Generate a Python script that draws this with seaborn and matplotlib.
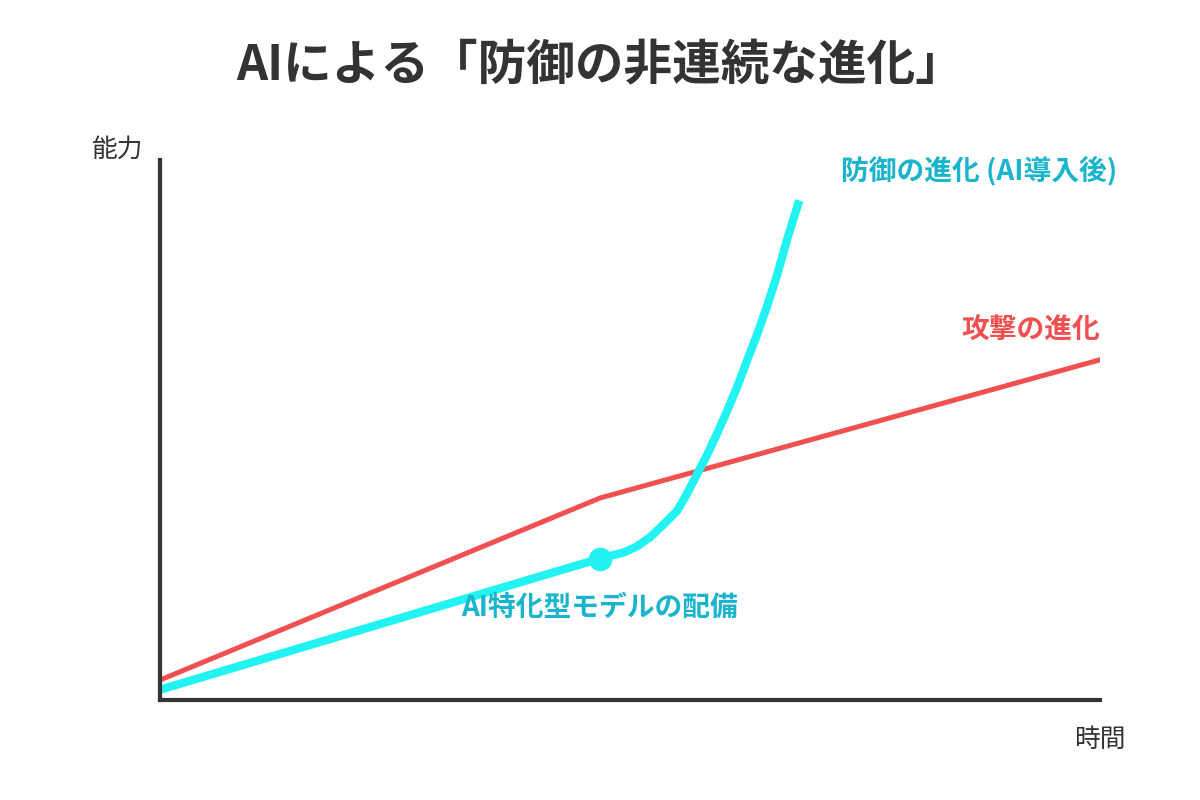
import pandas as pd
import matplotlib
matplotlib.use('Agg')
import matplotlib.pyplot as plt
import seaborn as sns

# Values (time 0-100, capability 0-100)
attack_t = [0, 46.8, 100]
attack_v = [3.7, 37.4, 63.0]

defense_t = [0, 46.8, 47.9, 49.3, 50.7, 52.1, 53.5, 55.0, 56.0, 57.1, 58.2,
             59.2, 60.3, 61.4, 62.4, 63.5, 64.5, 65.6, 66.7, 68.0]
defense_v = [1.9, 26.2, 26.7, 27.3, 28.4, 30.1, 32.4, 35.0, 38.0, 41.7, 45.4,
             49.1, 53.4, 58.0, 62.6, 67.6, 72.5, 78.4, 85.2, 92.5]

deploy_t = 46.8
deploy_v = 26.2

sns.set_theme(style='white')
plt.rcParams['font.family'] = ['Noto Sans CJK JP', 'DejaVu Sans']

RED = '#F25050'
CYAN = '#22F2F2'
CYAN_TXT = '#1AB4CC'
DARK = '#333333'

attack = pd.DataFrame({'t': attack_t, 'v': attack_v})
defense = pd.DataFrame({'t': defense_t, 'v': defense_v})

fig = plt.figure(figsize=(12, 8), dpi=100)
ax = fig.add_axes([160 / 1200, 100 / 800, 940 / 1200, 540 / 800])

sns.lineplot(data=attack, x='t', y='v', ax=ax, color=RED, linewidth=3.6,
             estimator=None, sort=False)
sns.lineplot(data=defense, x='t', y='v', ax=ax, color=CYAN, linewidth=6,
             estimator=None, sort=False, solid_capstyle='butt',
             solid_joinstyle='round')
ax.plot([deploy_t], [deploy_v], 'o', color=CYAN, markersize=16, zorder=5)

ax.set_xlim(0, 100)
ax.set_ylim(0, 100)
ax.set_xticks([])
ax.set_yticks([])
ax.set_xlabel('')
ax.set_ylabel('')
for side in ['top', 'right']:
    ax.spines[side].set_visible(False)
for side in ['left', 'bottom']:
    ax.spines[side].set_color(DARK)
    ax.spines[side].set_linewidth(3)

ax.text(87.1, 98.1, '防御の進化 (AI導入後)', color=CYAN_TXT, fontsize=20,
        fontweight='bold', ha='center', va='center', clip_on=False)
ax.text(92.6, 68.5, '攻撃の進化', color=RED, fontsize=20,
        fontweight='bold', ha='center', va='center', clip_on=False)
ax.text(46.8, 17.0, 'AI特化型モデルの配備', color=CYAN_TXT, fontsize=20,
        fontweight='bold', ha='center', va='center', clip_on=False)
ax.text(-4.5, 101.9, '能力', color=DARK, fontsize=18.5, ha='center',
        va='center', clip_on=False)
ax.text(100, -7.4, '時間', color=DARK, fontsize=18.5, ha='center',
        va='center', clip_on=False)

fig.text(600 / 1200, 1 - 66 / 800, 'AIによる「防御の非連続な進化」', color=DARK,
         fontsize=35, fontweight='bold', ha='center', va='center')

fig.savefig('out.png', dpi=100, facecolor='white')
